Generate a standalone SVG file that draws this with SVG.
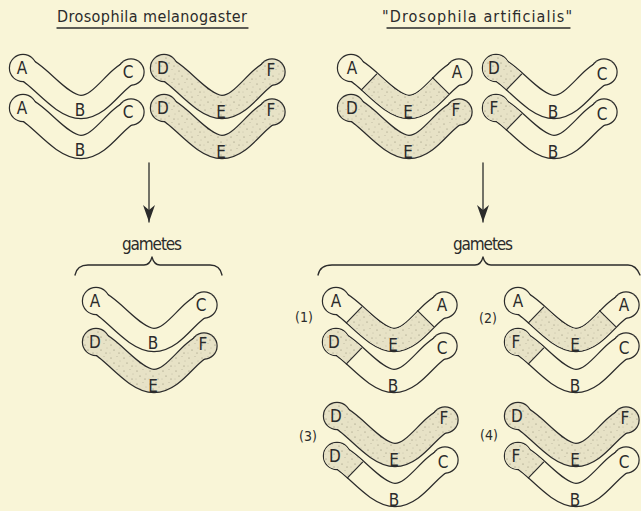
<svg xmlns="http://www.w3.org/2000/svg" xmlns:xlink="http://www.w3.org/1999/xlink" width="641" height="511" viewBox="0 0 641 511">
  <style>
    .lb { font-family: "DejaVu Sans Condensed", "Liberation Sans Narrow", "Liberation Sans", sans-serif; font-size: 17px; fill: #2b2b2b; text-anchor: middle; }
    .ttl { font-family: "DejaVu Sans Condensed", "Liberation Sans Narrow", "Liberation Sans", sans-serif; font-size: 16px; fill: #2b2b2b; }
    .gam { font-family: "DejaVu Sans Condensed", "Liberation Sans Narrow", "Liberation Sans", sans-serif; font-size: 17px; fill: #2b2b2b; }
    .num { font-family: "DejaVu Sans Condensed", "Liberation Sans Narrow", "Liberation Sans", sans-serif; font-size: 14px; fill: #2b2b2b; text-anchor: middle; }
    .ink { fill: none; stroke: #2b2b2b; stroke-width: 1.3; stroke-linecap: round; stroke-linejoin: round; }
    .dv { stroke: #2b2b2b; stroke-width: 1.2; stroke-linecap: round; }
  </style>
  <defs>
    <!-- stippled shading for marked chromosome segments -->
    <pattern id="stip" width="13" height="13" patternUnits="userSpaceOnUse">
      <rect width="13" height="13" fill="#e7e2c6"/>
      <circle cx="2" cy="3" r="0.55" fill="#8c8870"/>
      <circle cx="8" cy="1.5" r="0.45" fill="#9a9680"/>
      <circle cx="5" cy="8" r="0.6" fill="#8c8870"/>
      <circle cx="11" cy="6" r="0.45" fill="#a09c86"/>
      <circle cx="10" cy="11" r="0.55" fill="#8c8870"/>
      <circle cx="1" cy="11" r="0.4" fill="#a09c86"/>
    </pattern>
    <!-- centre line of a V-shaped chromosome, origin at the left end -->
    <path id="cl" d="M0,0 C16,6 38,39 58,39 C78,39 92,10 108,4" fill="none"/>
    <g id="ol">
      <use href="#cl" stroke="#2b2b2b" stroke-width="24.4"/>
      <circle r="14.2" fill="#2b2b2b"/>
      <circle cx="108" cy="4" r="13.7" fill="#2b2b2b"/>
    </g>
    <g id="in">
      <use href="#cl" stroke="#f9f5d7" stroke-width="22"/>
      <circle r="13" fill="#f9f5d7"/>
      <circle cx="108" cy="4" r="12.5" fill="#f9f5d7"/>
    </g>
    <g id="sh">
      <use href="#cl" stroke="url(#stip)" stroke-width="22"/>
      <circle r="13" fill="url(#stip)"/>
      <circle cx="108" cy="4" r="12.5" fill="url(#stip)"/>
    </g>
    <!-- left end segment -->
    <clipPath id="cL">
      <polygon points="-23.4,57.2 59.4,-29.2 59.4,-40 -40,-40 -40,57.2"/>
    </clipPath>
    <!-- middle segment between the two breaks -->
    <clipPath id="cM">
      <polygon points="51,-20.5 -23.4,57.2 -23.4,70 140,70 132.1,59.5"/>
    </clipPath>
    <!-- break lines across the chromosome -->
    <line id="bkL" class="dv" x1="10.4" y1="21.9" x2="25.6" y2="6.1"/>
    <line id="bkR" class="dv" x1="81.5" y1="9.6" x2="97.5" y2="25.4"/>
    <marker id="ah" markerWidth="17" markerHeight="12" refX="17" refY="6" orient="auto" markerUnits="userSpaceOnUse">
      <path d="M0,0 L17,6 L0,12 L5,6 Z" fill="#2b2b2b"/>
    </marker>
  </defs>

  <rect width="641" height="511" fill="#f9f5d7"/>

  <!-- titles -->
  <g id="title-mel">
    <text class="ttl" x="57" y="22" textLength="190" lengthAdjust="spacing">Drosophila melanogaster</text>
    <line class="ink" x1="57" y1="28" x2="248" y2="28" stroke-width="1"/>
  </g>
  <g id="title-art">
    <text class="ttl" x="382" y="22" textLength="190" lengthAdjust="spacing">"Drosophila artificialis"</text>
    <line class="ink" x1="387" y1="28" x2="570" y2="28" stroke-width="1"/>
  </g>

  <!-- D. melanogaster chromosome pairs -->
  <g id="mel-abc-1" transform="translate(23,68)">
    <use href="#ol"/><use href="#in"/>
    <text class="lb" x="-1" y="6">A</text><text class="lb" x="57" y="48">B</text><text class="lb" x="105" y="10">C</text>
  </g>
  <g id="mel-abc-2" transform="translate(23,108)">
    <use href="#ol"/><use href="#in"/>
    <text class="lb" x="-1" y="6">A</text><text class="lb" x="57" y="48">B</text><text class="lb" x="105" y="10">C</text>
  </g>
  <g id="mel-def-1" transform="translate(164,68)">
    <use href="#ol"/><use href="#sh"/>
    <text class="lb" x="-1" y="6">D</text><text class="lb" x="57" y="50">E</text><text class="lb" x="107" y="8">F</text>
  </g>
  <g id="mel-def-2" transform="translate(164,108)">
    <use href="#ol"/><use href="#sh"/>
    <text class="lb" x="-1" y="6">D</text><text class="lb" x="57" y="50">E</text><text class="lb" x="107" y="8">F</text>
  </g>

  <!-- D. artificialis chromosome pairs -->
  <g id="art-aea" transform="translate(351,68)">
    <use href="#ol"/><use href="#in"/><use href="#sh" clip-path="url(#cM)"/>
    <use href="#bkL"/><use href="#bkR"/>
    <text class="lb" x="1" y="6">A</text><text class="lb" x="57" y="50">E</text><text class="lb" x="106" y="10">A</text>
  </g>
  <g id="art-def" transform="translate(351,108)">
    <use href="#ol"/><use href="#sh"/>
    <text class="lb" x="1" y="6">D</text><text class="lb" x="57" y="50">E</text><text class="lb" x="105" y="8">F</text>
  </g>
  <g id="art-dbc" transform="translate(496,68)">
    <use href="#ol"/><use href="#in"/><use href="#sh" clip-path="url(#cL)"/>
    <use href="#bkL"/>
    <text class="lb" x="-2" y="6">D</text><text class="lb" x="57" y="50">B</text><text class="lb" x="106" y="12">C</text>
  </g>
  <g id="art-fbc" transform="translate(496,108)">
    <use href="#ol"/><use href="#in"/><use href="#sh" clip-path="url(#cL)"/>
    <use href="#bkL"/>
    <text class="lb" x="-2" y="6">F</text><text class="lb" x="57" y="50">B</text><text class="lb" x="106" y="12">C</text>
  </g>

  <!-- gamete labels -->
  <g id="lbl-gametes">
    <text class="gam" x="122" y="250" textLength="60" lengthAdjust="spacing">gametes</text>
    <text class="gam" x="453" y="250" textLength="60" lengthAdjust="spacing">gametes</text>
  </g>

  <!-- D. melanogaster gamete -->
  <g id="gam-mel-abc" transform="translate(96,301)">
    <use href="#ol"/><use href="#in"/>
    <text class="lb" x="-1" y="6">A</text><text class="lb" x="57" y="48">B</text><text class="lb" x="105" y="10">C</text>
  </g>
  <g id="gam-mel-def" transform="translate(96,342)">
    <use href="#ol"/><use href="#sh"/>
    <text class="lb" x="-1" y="6">D</text><text class="lb" x="57" y="50">E</text><text class="lb" x="107" y="8">F</text>
  </g>

  <!-- D. artificialis gametes -->
  <g id="num-labels">
    <text class="num" x="304" y="322">(1)</text>
    <text class="num" x="488" y="323">(2)</text>
    <text class="num" x="308" y="441">(3)</text>
    <text class="num" x="489" y="440">(4)</text>
  </g>
  <g id="gam1-aea" transform="translate(336,301)">
    <use href="#ol"/><use href="#in"/><use href="#sh" clip-path="url(#cM)"/>
    <use href="#bkL"/><use href="#bkR"/>
    <text class="lb" x="0" y="6">A</text><text class="lb" x="57" y="50">E</text><text class="lb" x="106" y="10">A</text>
  </g>
  <g id="gam1-dbc" transform="translate(336,342)">
    <use href="#ol"/><use href="#in"/><use href="#sh" clip-path="url(#cL)"/>
    <use href="#bkL"/>
    <text class="lb" x="-2" y="6">D</text><text class="lb" x="57" y="50">B</text><text class="lb" x="106" y="12">C</text>
  </g>
  <g id="gam2-aea" transform="translate(518,301)">
    <use href="#ol"/><use href="#in"/><use href="#sh" clip-path="url(#cM)"/>
    <use href="#bkL"/><use href="#bkR"/>
    <text class="lb" x="0" y="6">A</text><text class="lb" x="57" y="50">E</text><text class="lb" x="106" y="10">A</text>
  </g>
  <g id="gam2-fbc" transform="translate(518,342)">
    <use href="#ol"/><use href="#in"/><use href="#sh" clip-path="url(#cL)"/>
    <use href="#bkL"/>
    <text class="lb" x="-2" y="6">F</text><text class="lb" x="57" y="50">B</text><text class="lb" x="106" y="12">C</text>
  </g>
  <g id="gam3-def" transform="translate(337,416)">
    <use href="#ol"/><use href="#sh"/>
    <text class="lb" x="-1" y="6">D</text><text class="lb" x="57" y="50">E</text><text class="lb" x="107" y="8">F</text>
  </g>
  <g id="gam3-dbc" transform="translate(337,456)">
    <use href="#ol"/><use href="#in"/><use href="#sh" clip-path="url(#cL)"/>
    <use href="#bkL"/>
    <text class="lb" x="-2" y="6">D</text><text class="lb" x="57" y="50">B</text><text class="lb" x="106" y="12">C</text>
  </g>
  <g id="gam4-def" transform="translate(518,416)">
    <use href="#ol"/><use href="#sh"/>
    <text class="lb" x="-1" y="6">D</text><text class="lb" x="57" y="50">E</text><text class="lb" x="107" y="8">F</text>
  </g>
  <g id="gam4-fbc" transform="translate(518,456)">
    <use href="#ol"/><use href="#in"/><use href="#sh" clip-path="url(#cL)"/>
    <use href="#bkL"/>
    <text class="lb" x="-2" y="6">F</text><text class="lb" x="57" y="50">B</text><text class="lb" x="106" y="12">C</text>
  </g>

  <!-- connectors: arrows and braces -->
  <g id="connectors">
    <line class="ink" x1="149" y1="163" x2="149" y2="222" marker-end="url(#ah)"/>
    <line class="ink" x1="483" y1="163" x2="483" y2="222" marker-end="url(#ah)"/>
    <path class="ink" d="M75,275 Q77,265 88,265 L144,265 Q150,265 152,257 Q154,265 160,265 L210,265 Q220,265 222,275"/>
    <path class="ink" d="M318,275 Q320,265 332,265 L475,265 Q481,265 483,257 Q485,265 491,265 L628,265 Q636,265 640,275"/>
  </g>
</svg>
